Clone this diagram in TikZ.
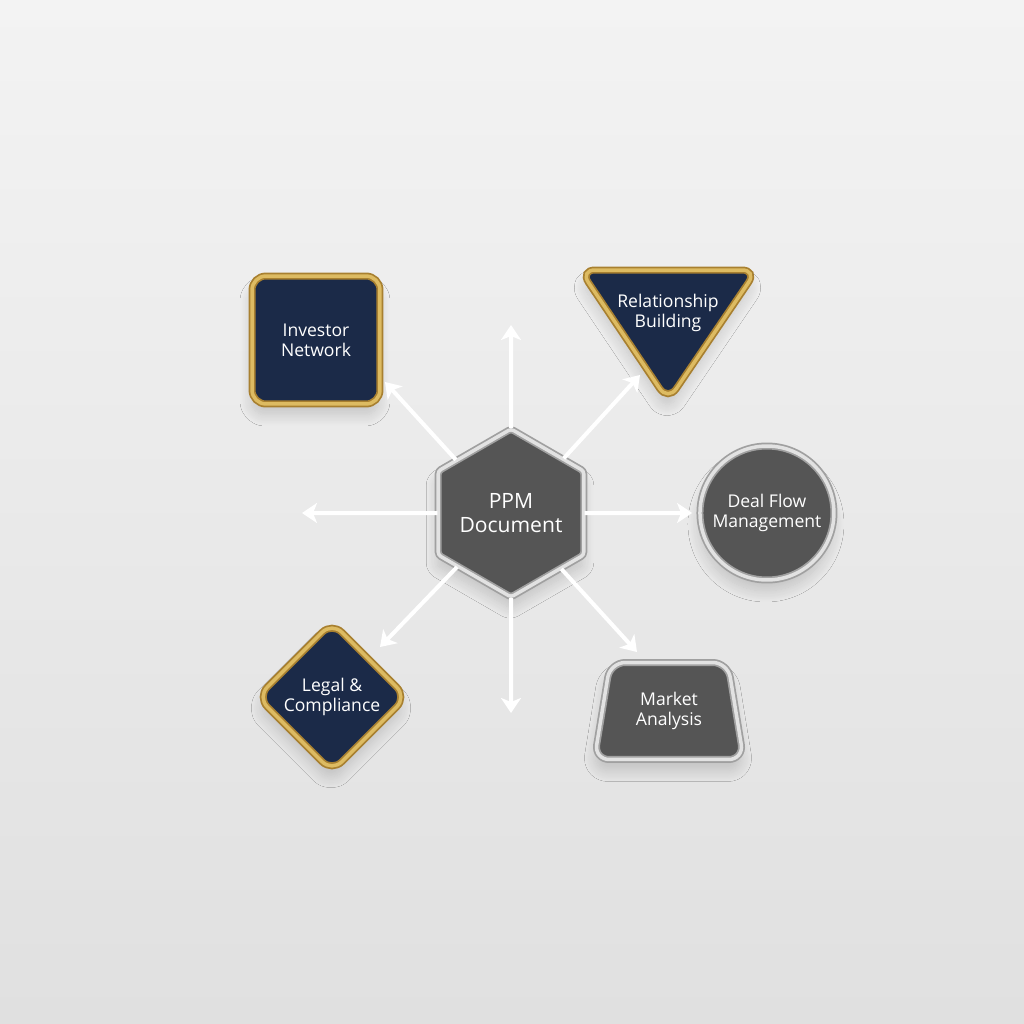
\documentclass[tikz,border=0pt]{standalone}
\usepackage{fontspec}
\setmainfont{Open Sans}
\usepackage{tikz}
\usetikzlibrary{shapes.geometric,arrows.meta,positioning,shadows.blur}
\definecolor{navy}{HTML}{1B2A48}
\definecolor{slate}{HTML}{555555}
\definecolor{golddark}{HTML}{A88030}
\definecolor{goldlight}{HTML}{DDBB62}
\definecolor{silverdark}{HTML}{A0A0A0}
\definecolor{silverlight}{HTML}{E2E2E2}
\definecolor{bgtop}{HTML}{F3F3F3}
\definecolor{bgbottom}{HTML}{E0E0E0}
\tikzset{
	block/.style = {fill=navy, text=white, align=center, line width=0.035cm, double distance=0.07cm,
		font=\fontsize{10}{11.5}\selectfont,
		blur shadow={shadow xshift=-0.02cm, shadow yshift=-0.22cm, shadow blur radius=0.22cm, shadow blur steps=16, shadow opacity=16}},
	goldblock/.style = {block, draw=golddark, double=goldlight},
	silverblock/.style = {block, fill=slate, draw=silverdark, double=silverlight},
	txt/.style = {text=white, align=center, font=\fontsize{10}{11.5}\selectfont},
	output/.style = {coordinate},
	flow/.style = {->, draw=white, line width=0.08cm}
}

\begin{document}
\begin{tikzpicture}[x=0.02cm, y=-0.02cm, >={Stealth[length=0.3cm, width=0.4cm, inset=0.08cm]}]
\shade [top color=bgtop, bottom color=bgbottom] (0,0) rectangle (1024,1024);
\useasboundingbox (0,0) rectangle (1024,1024);

\node [silverblock, regular polygon, regular polygon sides=6, shape border rotate=30, minimum size=3.2cm, inner sep=0pt, rounded corners=0.06cm, font=\fontsize{12}{13.7}\selectfont] (ppm) at (511,513) {PPM\\Document};
\node [goldblock, rectangle, rounded corners=0.28cm, minimum size=2.56cm] (investor) at (316,340) {Investor\\Network};
\draw [goldblock, rounded corners=0.3cm] (580,270) -- (757,270) -- (668,401) -- cycle;
\node [txt] (relation) at (668,313) {Relationship\\Building};
\node [silverblock, circle, minimum size=2.68cm, right of=ppm, node distance=5.12cm] (deal) {Deal Flow\\Management};
\node [goldblock, diamond, minimum size=3cm, inner sep=0pt, rounded corners=0.28cm] (legal) at (332,697) {Legal \&\\Compliance};
\node [silverblock, trapezium, trapezium left angle=78, trapezium right angle=78, trapezium stretches=true, minimum width=3cm, minimum height=1.94cm, rounded corners=0.3cm] (market) at (669,711) {Market\\Analysis};

\node [output] (upend) at (511,325) {};
\node [output] (downend) at (511,713) {};
\node [output] (leftend) at (302,513) {};
\node [output] (investorend) at (385,382) {};
\node [output] (relationend) at (640,375) {};
\node [output] (legalend) at (380,647) {};
\node [output] (marketend) at (637,652) {};

\draw [flow] (ppm.north) -- (upend);
\draw [flow] (ppm.south) -- (downend);
\draw [flow] (ppm.west) -- (leftend);
\draw [flow, shorten >=0.14cm] (ppm) -- (deal);
\draw [flow] (ppm.136) -- (investorend);
\draw [flow] (ppm.46) -- (relationend);
\draw [flow] (ppm.225) -- (legalend);
\draw [flow] (ppm.312) -- (marketend);
\end{tikzpicture}
\end{document}
